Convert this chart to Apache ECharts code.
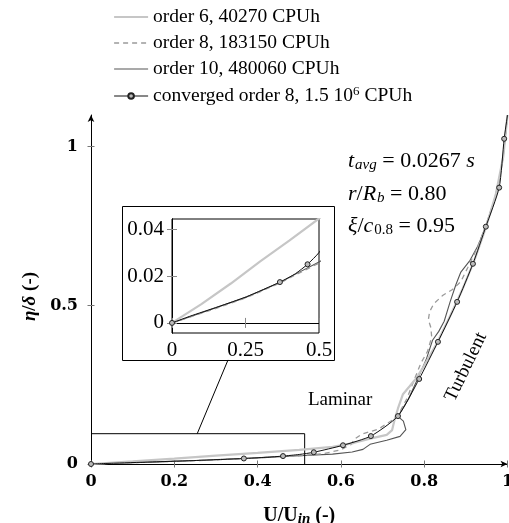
<!DOCTYPE html>
<html>
<head>
<meta charset="utf-8">
<title>velocity profile</title>
<script src="https://cdn.jsdelivr.net/npm/echarts@6/dist/echarts.min.js"></script>
<style>
  html, body { margin: 0; padding: 0; background: #fff; }
  #main { width: 509px; height: 523px; }
</style>
</head>
<body>
<div id="main"></div>
<script type="text/javascript">
// profiles: [U/Uin, eta/delta]
var order6 = [[0,0],[0.1,0.008],[0.2,0.0168],[0.3,0.0262],[0.4,0.0352],[0.5,0.0445],[0.58,0.054],[0.63,0.066],[0.67,0.080],
  [0.71,0.092],[0.723,0.107],[0.728,0.135],[0.737,0.175],[0.749,0.22],[0.765,0.245],[0.782,0.272],[0.80,0.31],[0.83,0.38],
  [0.86,0.46],[0.89,0.545],[0.92,0.64],[0.948,0.745],[0.972,0.85],[0.99,0.97],[1.0,1.10]];
var order8 = [[0,0],[0.157,0.0065],[0.254,0.0108],[0.367,0.017],[0.42,0.0205],[0.5,0.0255],[0.56,0.033],[0.60,0.045],
  [0.625,0.062],[0.632,0.078],[0.65,0.094],[0.69,0.11],[0.735,0.148],[0.758,0.205],[0.775,0.262],[0.792,0.318],[0.808,0.355],
  [0.818,0.40],[0.816,0.43],[0.81,0.455],[0.813,0.48],[0.823,0.505],[0.845,0.532],[0.868,0.55],[0.888,0.575],[0.905,0.62],
  [0.925,0.675],[0.945,0.74],[0.968,0.83],[0.985,0.93],[0.995,1.02],[1.0,1.10]];
var order10 = [[0,0],[0.157,0.0068],[0.254,0.011],[0.367,0.0172],[0.42,0.0208],[0.5,0.026],[0.58,0.031],[0.627,0.038],
  [0.653,0.046],[0.67,0.062],[0.71,0.075],[0.742,0.087],[0.756,0.108],[0.75,0.135],[0.737,0.150],[0.762,0.205],[0.785,0.27],
  [0.805,0.33],[0.82,0.39],[0.835,0.418],[0.848,0.45],[0.862,0.51],[0.876,0.565],[0.888,0.605],[0.91,0.642],[0.93,0.69],
  [0.952,0.765],[0.975,0.86],[0.99,0.97],[1.0,1.10]];
var converged = [[0,0],[0.06,0.0028],[0.157,0.0069],[0.254,0.0112],[0.367,0.0174],[0.42,0.021],[0.461,0.025],[0.5,0.030],
  [0.535,0.037],[0.605,0.059],[0.672,0.088],[0.737,0.151],[0.788,0.268],[0.833,0.385],[0.879,0.511],[0.917,0.631],
  [0.948,0.748],[0.98,0.871],[0.992,1.025],[1.0,1.10]];
// x of the converged points that carry a circle
var convergedMarks = [0,0.367,0.461,0.535,0.605,0.672,0.737,0.788,0.833,0.879,0.917,0.948,0.98,0.992];

var seriesNames = ['order 6, 40270 CPUh', 'order 8, 183150 CPUh', 'order 10, 480060 CPUh', 'converged order 8, 1.5 10^6 CPUh'];
var mainYTicks = [0, 0.5, 1];
var insetYTicks = [0, 0.02, 0.04];
// zoom rectangle and its link to the inset, in main axis units
var zoomBox = [[0, 0.0955], [0.513, 0.0955], [0.513, 0]];
var zoomLink = [[0.255, 0.0955], [0.329, 0.328]];

var lineStyles = [
  { color: '#c6c6c6', width: 2.2, type: 'solid' },
  { color: '#9a9a9a', width: 1.3, type: [5, 4] },
  { color: '#555555', width: 1.1, type: 'solid' },
  { color: '#111111', width: 1, type: 'solid' }
];
var allData = [order6, order8, order10, converged];

var serif = 'Liberation Serif';

function makeSeries(i, xi, yi) {
  var s = {
    name: seriesNames[i],
    type: 'line',
    xAxisIndex: xi,
    yAxisIndex: yi,
    data: allData[i],
    lineStyle: lineStyles[i],
    itemStyle: { color: lineStyles[i].color },
    symbol: 'none',
    z: 5 - i,
    silent: true
  };
  if (i == 3) {
    s.symbol = 'circle';
    s.smooth = 0.2;
    s.symbolSize = function (val) {
      return convergedMarks.indexOf(val[0]) > -1 ? 5 : 0;
    };
    s.itemStyle = { color: '#bbbbbb', borderColor: '#222', borderWidth: 1 };
    s.z = 6;
  }
  return s;
}

var series = [];
for (var i = 0; i < 4; i++) series.push(makeSeries(i, 0, 0));
for (var i = 0; i < 4; i++) series.push(makeSeries(i, 2, 2));
series.push({ type: 'line', xAxisIndex: 0, yAxisIndex: 0, data: zoomBox, symbol: 'none', silent: true,
  lineStyle: { color: '#000', width: 1 } });
series.push({ type: 'line', xAxisIndex: 0, yAxisIndex: 0, data: zoomLink, symbol: 'none', silent: true,
  lineStyle: { color: '#000', width: 1 } });

var legendData = [];
for (var i = 0; i < 4; i++) {
  var item = { name: seriesNames[i], lineStyle: { width: lineStyles[i].width } };
  if (i < 3) item.itemStyle = { opacity: 0 };
  legendData.push(item);
}

var tickLabel = { fontFamily: 'DejaVu Serif', fontWeight: 'bold', fontSize: 16, color: '#000' };
var insetLabel = { fontFamily: serif, fontSize: 21, color: '#000' };
var mathRich = {
  i: { fontFamily: serif, fontStyle: 'italic', fontSize: 22 },
  n: { fontFamily: serif, fontSize: 22 },
  sub: { fontFamily: serif, fontStyle: 'italic', fontSize: 15, padding: [9, 0, 0, 1] },
  subn: { fontFamily: serif, fontSize: 15, padding: [9, 0, 0, 1] }
};

var myChart = echarts.init(document.getElementById('main'));
var option = {
  animation: false,
  backgroundColor: '#fff',
  legend: {
    orient: 'vertical',
    left: 113,
    top: 7,
    padding: 0,
    itemWidth: 34,
    itemHeight: 7,
    itemGap: 6,
    data: legendData,
    textStyle: {
      fontFamily: serif, fontSize: 19.5, color: '#000',
      rich: {
        t: { fontFamily: serif, fontSize: 19.5, color: '#000' },
        sup: { fontFamily: serif, fontSize: 13, color: '#000', padding: [0, 0, 9, 0] }
      }
    },
    formatter: function (name) {
      if (name == seriesNames[3]) return '{t|converged order 8, 1.5 10}{sup|6}{t| CPUh}';
      return name;
    }
  },
  grid: [
    { left: 91, right: 1.5, top: 115, bottom: 59, outerBoundsMode: 'none' },
    { left: 172, top: 219, width: 147, height: 114, show: true, borderColor: '#000', borderWidth: 1, outerBoundsMode: 'none' }
  ],
  xAxis: [
    {
      gridIndex: 0, type: 'value', min: 0, max: 1, interval: 0.2, position: 'bottom',
      name: 'U/U{s|in} (-)', nameLocation: 'middle', nameGap: 40,
      nameTextStyle: {
        fontFamily: serif, fontWeight: 'bold', fontSize: 20, color: '#000',
        rich: { s: { fontFamily: serif, fontWeight: 'bold', fontStyle: 'italic', fontSize: 15, padding: [8, 0, 0, 0] } }
      },
      axisLine: { lineStyle: { color: '#000', width: 1 }, symbol: ['none', 'arrow'], symbolSize: [5, 7] },
      axisTick: { length: 3.5, lineStyle: { color: '#777' } },
      axisLabel: Object.assign({ margin: 10, formatter: function (v) { return String(+v.toFixed(1)); } }, tickLabel),
      splitLine: { show: false }
    },
    {
      gridIndex: 0, type: 'value', min: 0, max: 1, interval: 0.2, position: 'bottom',
      axisLine: { show: false },
      axisTick: { inside: true, length: 3.5, lineStyle: { color: '#777' } },
      axisLabel: { show: false }, splitLine: { show: false }
    },
    {
      gridIndex: 1, type: 'value', min: 0, max: 0.5, interval: 0.25, position: 'bottom',
      axisLine: { lineStyle: { color: '#000' } },
      axisTick: { inside: true, length: 5, lineStyle: { color: '#888' } },
      axisLabel: Object.assign({ margin: 7 }, insetLabel),
      splitLine: { show: false }
    },
    {
      gridIndex: 1, type: 'value', min: 0, max: 0.5, interval: 0.25, position: 'top',
      axisLine: { lineStyle: { color: '#000' } },
      axisTick: { inside: true, length: 5, lineStyle: { color: '#888' } },
      axisLabel: { show: false }, splitLine: { show: false }
    }
  ],
  yAxis: [
    {
      gridIndex: 0, type: 'value', min: 0, max: 1.1, position: 'left',
      name: '{i|η}/{i|δ} (-)', nameLocation: 'middle', nameGap: 50,
      nameTextStyle: {
        fontFamily: serif, fontWeight: 'bold', fontSize: 19, color: '#000', padding: [0, 14, 0, 0],
        rich: { i: { fontFamily: serif, fontWeight: 'bold', fontStyle: 'italic', fontSize: 19 } }
      },
      axisLine: { lineStyle: { color: '#000', width: 1 }, symbol: ['none', 'arrow'], symbolSize: [5, 7] },
      axisTick: { length: 3.5, lineStyle: { color: '#777' }, customValues: mainYTicks },
      axisLabel: Object.assign({ margin: 13, customValues: mainYTicks }, tickLabel),
      splitLine: { show: false }
    },
    {
      gridIndex: 0, type: 'value', min: 0, max: 1.1, position: 'left',
      axisLine: { show: false },
      axisTick: { inside: true, length: 3.5, lineStyle: { color: '#777' }, customValues: mainYTicks },
      axisLabel: { show: false }, splitLine: { show: false }
    },
    {
      gridIndex: 1, type: 'value', min: -0.0043, max: 0.0443, position: 'left',
      axisLine: { lineStyle: { color: '#000' } },
      axisTick: { inside: true, length: 5, lineStyle: { color: '#888' }, customValues: insetYTicks },
      axisLabel: Object.assign({ margin: 8, customValues: insetYTicks }, insetLabel),
      splitLine: { show: false }
    },
    {
      gridIndex: 1, type: 'value', min: -0.0043, max: 0.0443, position: 'right',
      axisLine: { lineStyle: { color: '#000' } },
      axisTick: { inside: true, length: 5, lineStyle: { color: '#888' }, customValues: insetYTicks },
      axisLabel: { show: false }, splitLine: { show: false }
    }
  ],
  graphic: [
    { type: 'rect', z: -1, shape: { x: 122.5, y: 206.5, width: 212, height: 154 },
      style: { fill: '#fff', stroke: '#000', lineWidth: 1 } },
    { type: 'text', x: 348, y: 161, z: 10,
      style: { text: '{i|t}{sub|avg}{n| = 0.0267 }{i|s}', rich: mathRich, fill: '#000', verticalAlign: 'middle' } },
    { type: 'text', x: 348, y: 194, z: 10,
      style: { text: '{i|r}{n|/}{i|R}{sub|b}{n| = 0.80}', rich: mathRich, fill: '#000', verticalAlign: 'middle' } },
    { type: 'text', x: 348, y: 226, z: 10,
      style: { text: '{i|ξ}{n|/}{i|c}{subn|0.8}{n| = 0.95}', rich: mathRich, fill: '#000', verticalAlign: 'middle' } },
    { type: 'text', x: 308, y: 400, z: 10,
      style: { text: 'Laminar', font: '19px "Liberation Serif"', fill: '#000', verticalAlign: 'middle' } },
    { type: 'text', x: 466, y: 367, z: 10, rotation: 1.12,
      style: { text: 'Turbulent', font: '19px "Liberation Serif"', fill: '#000', align: 'center', verticalAlign: 'middle' } }
  ],
  series: series
};
myChart.setOption(option);
</script>
</body>
</html>
